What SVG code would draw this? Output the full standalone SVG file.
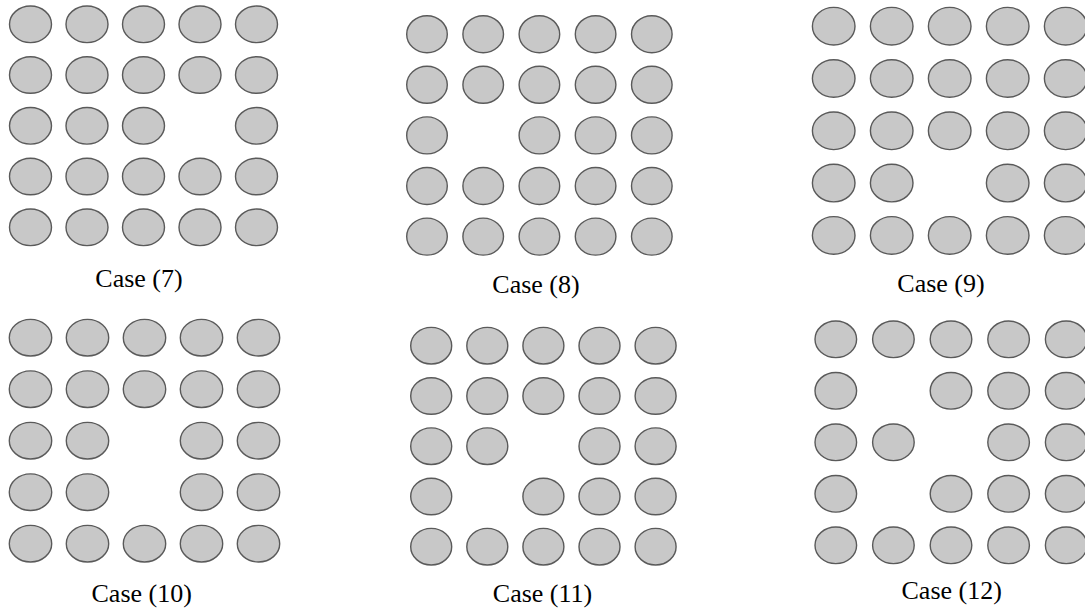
<svg xmlns="http://www.w3.org/2000/svg" width="1085" height="614" viewBox="0 0 1085 614">
<style>
ellipse{fill:#c8c8c8;stroke:#5a5a5a;stroke-width:1.4}
text{font-family:"Liberation Serif","Times New Roman",serif;font-size:26px;fill:#000;text-anchor:middle}
</style>
<rect width="1085" height="614" fill="#fff"/>
<g id="case7">
<ellipse cx="30.5" cy="24.3" rx="21" ry="18.3"/><ellipse cx="87" cy="24.3" rx="21" ry="18.3"/><ellipse cx="143.5" cy="24.3" rx="21" ry="18.3"/><ellipse cx="200" cy="24.3" rx="21" ry="18.3"/><ellipse cx="256.5" cy="24.3" rx="21" ry="18.3"/>
<ellipse cx="30.5" cy="75" rx="21" ry="18.3"/><ellipse cx="87" cy="75" rx="21" ry="18.3"/><ellipse cx="143.5" cy="75" rx="21" ry="18.3"/><ellipse cx="200" cy="75" rx="21" ry="18.3"/><ellipse cx="256.5" cy="75" rx="21" ry="18.3"/>
<ellipse cx="30.5" cy="125.8" rx="21" ry="18.3"/><ellipse cx="87" cy="125.8" rx="21" ry="18.3"/><ellipse cx="143.5" cy="125.8" rx="21" ry="18.3"/><ellipse cx="256.5" cy="125.8" rx="21" ry="18.3"/>
<ellipse cx="30.5" cy="176.5" rx="21" ry="18.3"/><ellipse cx="87" cy="176.5" rx="21" ry="18.3"/><ellipse cx="143.5" cy="176.5" rx="21" ry="18.3"/><ellipse cx="200" cy="176.5" rx="21" ry="18.3"/><ellipse cx="256.5" cy="176.5" rx="21" ry="18.3"/>
<ellipse cx="30.5" cy="227.3" rx="21" ry="18.3"/><ellipse cx="87" cy="227.3" rx="21" ry="18.3"/><ellipse cx="143.5" cy="227.3" rx="21" ry="18.3"/><ellipse cx="200" cy="227.3" rx="21" ry="18.3"/><ellipse cx="256.5" cy="227.3" rx="21" ry="18.3"/>
<text x="139" y="287">Case (7)</text>
</g>
<g id="case8">
<ellipse cx="427" cy="34.2" rx="20.3" ry="18.5"/><ellipse cx="483.2" cy="34.2" rx="20.3" ry="18.5"/><ellipse cx="539.4" cy="34.2" rx="20.3" ry="18.5"/><ellipse cx="595.6" cy="34.2" rx="20.3" ry="18.5"/><ellipse cx="651.8" cy="34.2" rx="20.3" ry="18.5"/>
<ellipse cx="427" cy="84.8" rx="20.3" ry="18.5"/><ellipse cx="483.2" cy="84.8" rx="20.3" ry="18.5"/><ellipse cx="539.4" cy="84.8" rx="20.3" ry="18.5"/><ellipse cx="595.6" cy="84.8" rx="20.3" ry="18.5"/><ellipse cx="651.8" cy="84.8" rx="20.3" ry="18.5"/>
<ellipse cx="427" cy="135.4" rx="20.3" ry="18.5"/><ellipse cx="539.4" cy="135.4" rx="20.3" ry="18.5"/><ellipse cx="595.6" cy="135.4" rx="20.3" ry="18.5"/><ellipse cx="651.8" cy="135.4" rx="20.3" ry="18.5"/>
<ellipse cx="427" cy="186" rx="20.3" ry="18.5"/><ellipse cx="483.2" cy="186" rx="20.3" ry="18.5"/><ellipse cx="539.4" cy="186" rx="20.3" ry="18.5"/><ellipse cx="595.6" cy="186" rx="20.3" ry="18.5"/><ellipse cx="651.8" cy="186" rx="20.3" ry="18.5"/>
<ellipse cx="427" cy="236.6" rx="20.3" ry="18.5"/><ellipse cx="483.2" cy="236.6" rx="20.3" ry="18.5"/><ellipse cx="539.4" cy="236.6" rx="20.3" ry="18.5"/><ellipse cx="595.6" cy="236.6" rx="20.3" ry="18.5"/><ellipse cx="651.8" cy="236.6" rx="20.3" ry="18.5"/>
<text x="536" y="293">Case (8)</text>
</g>
<g id="case9">
<ellipse cx="833.7" cy="26.2" rx="21.3" ry="18.8"/><ellipse cx="891.7" cy="26.2" rx="21.3" ry="18.8"/><ellipse cx="949.7" cy="26.2" rx="21.3" ry="18.8"/><ellipse cx="1007.7" cy="26.2" rx="21.3" ry="18.8"/><ellipse cx="1065.7" cy="26.2" rx="21.3" ry="18.8"/>
<ellipse cx="833.7" cy="78.5" rx="21.3" ry="18.8"/><ellipse cx="891.7" cy="78.5" rx="21.3" ry="18.8"/><ellipse cx="949.7" cy="78.5" rx="21.3" ry="18.8"/><ellipse cx="1007.7" cy="78.5" rx="21.3" ry="18.8"/><ellipse cx="1065.7" cy="78.5" rx="21.3" ry="18.8"/>
<ellipse cx="833.7" cy="130.8" rx="21.3" ry="18.8"/><ellipse cx="891.7" cy="130.8" rx="21.3" ry="18.8"/><ellipse cx="949.7" cy="130.8" rx="21.3" ry="18.8"/><ellipse cx="1007.7" cy="130.8" rx="21.3" ry="18.8"/><ellipse cx="1065.7" cy="130.8" rx="21.3" ry="18.8"/>
<ellipse cx="833.7" cy="183.1" rx="21.3" ry="18.8"/><ellipse cx="891.7" cy="183.1" rx="21.3" ry="18.8"/><ellipse cx="1007.7" cy="183.1" rx="21.3" ry="18.8"/><ellipse cx="1065.7" cy="183.1" rx="21.3" ry="18.8"/>
<ellipse cx="833.7" cy="235.4" rx="21.3" ry="18.8"/><ellipse cx="891.7" cy="235.4" rx="21.3" ry="18.8"/><ellipse cx="949.7" cy="235.4" rx="21.3" ry="18.8"/><ellipse cx="1007.7" cy="235.4" rx="21.3" ry="18.8"/><ellipse cx="1065.7" cy="235.4" rx="21.3" ry="18.8"/>
<text x="941" y="291.7">Case (9)</text>
</g>
<g id="case10">
<ellipse cx="30.5" cy="337.7" rx="21.2" ry="18.3"/><ellipse cx="87.5" cy="337.7" rx="21.2" ry="18.3"/><ellipse cx="144.5" cy="337.7" rx="21.2" ry="18.3"/><ellipse cx="201.5" cy="337.7" rx="21.2" ry="18.3"/><ellipse cx="258.5" cy="337.7" rx="21.2" ry="18.3"/>
<ellipse cx="30.5" cy="389.2" rx="21.2" ry="18.3"/><ellipse cx="87.5" cy="389.2" rx="21.2" ry="18.3"/><ellipse cx="144.5" cy="389.2" rx="21.2" ry="18.3"/><ellipse cx="201.5" cy="389.2" rx="21.2" ry="18.3"/><ellipse cx="258.5" cy="389.2" rx="21.2" ry="18.3"/>
<ellipse cx="30.5" cy="440.7" rx="21.2" ry="18.3"/><ellipse cx="87.5" cy="440.7" rx="21.2" ry="18.3"/><ellipse cx="201.5" cy="440.7" rx="21.2" ry="18.3"/><ellipse cx="258.5" cy="440.7" rx="21.2" ry="18.3"/>
<ellipse cx="30.5" cy="492.2" rx="21.2" ry="18.3"/><ellipse cx="87.5" cy="492.2" rx="21.2" ry="18.3"/><ellipse cx="201.5" cy="492.2" rx="21.2" ry="18.3"/><ellipse cx="258.5" cy="492.2" rx="21.2" ry="18.3"/>
<ellipse cx="30.5" cy="543.7" rx="21.2" ry="18.3"/><ellipse cx="87.5" cy="543.7" rx="21.2" ry="18.3"/><ellipse cx="144.5" cy="543.7" rx="21.2" ry="18.3"/><ellipse cx="201.5" cy="543.7" rx="21.2" ry="18.3"/><ellipse cx="258.5" cy="543.7" rx="21.2" ry="18.3"/>
<text x="141.7" y="601.7">Case (10)</text>
</g>
<g id="case11">
<ellipse cx="431.2" cy="345.7" rx="20.5" ry="18.3"/><ellipse cx="487.3" cy="345.7" rx="20.5" ry="18.3"/><ellipse cx="543.4" cy="345.7" rx="20.5" ry="18.3"/><ellipse cx="599.5" cy="345.7" rx="20.5" ry="18.3"/><ellipse cx="655.6" cy="345.7" rx="20.5" ry="18.3"/>
<ellipse cx="431.2" cy="396" rx="20.5" ry="18.3"/><ellipse cx="487.3" cy="396" rx="20.5" ry="18.3"/><ellipse cx="543.4" cy="396" rx="20.5" ry="18.3"/><ellipse cx="599.5" cy="396" rx="20.5" ry="18.3"/><ellipse cx="655.6" cy="396" rx="20.5" ry="18.3"/>
<ellipse cx="431.2" cy="446.2" rx="20.5" ry="18.3"/><ellipse cx="487.3" cy="446.2" rx="20.5" ry="18.3"/><ellipse cx="599.5" cy="446.2" rx="20.5" ry="18.3"/><ellipse cx="655.6" cy="446.2" rx="20.5" ry="18.3"/>
<ellipse cx="431.2" cy="496.5" rx="20.5" ry="18.3"/><ellipse cx="543.4" cy="496.5" rx="20.5" ry="18.3"/><ellipse cx="599.5" cy="496.5" rx="20.5" ry="18.3"/><ellipse cx="655.6" cy="496.5" rx="20.5" ry="18.3"/>
<ellipse cx="431.2" cy="546.7" rx="20.5" ry="18.3"/><ellipse cx="487.3" cy="546.7" rx="20.5" ry="18.3"/><ellipse cx="543.4" cy="546.7" rx="20.5" ry="18.3"/><ellipse cx="599.5" cy="546.7" rx="20.5" ry="18.3"/><ellipse cx="655.6" cy="546.7" rx="20.5" ry="18.3"/>
<text x="542.5" y="601.7">Case (11)</text>
</g>
<g id="case12">
<ellipse cx="835.8" cy="339.3" rx="20.8" ry="18.3"/><ellipse cx="893.4" cy="339.3" rx="20.8" ry="18.3"/><ellipse cx="951" cy="339.3" rx="20.8" ry="18.3"/><ellipse cx="1008.6" cy="339.3" rx="20.8" ry="18.3"/><ellipse cx="1066.2" cy="339.3" rx="20.8" ry="18.3"/>
<ellipse cx="835.8" cy="390.8" rx="20.8" ry="18.3"/><ellipse cx="951" cy="390.8" rx="20.8" ry="18.3"/><ellipse cx="1008.6" cy="390.8" rx="20.8" ry="18.3"/><ellipse cx="1066.2" cy="390.8" rx="20.8" ry="18.3"/>
<ellipse cx="835.8" cy="442.3" rx="20.8" ry="18.3"/><ellipse cx="893.4" cy="442.3" rx="20.8" ry="18.3"/><ellipse cx="1008.6" cy="442.3" rx="20.8" ry="18.3"/><ellipse cx="1066.2" cy="442.3" rx="20.8" ry="18.3"/>
<ellipse cx="835.8" cy="493.8" rx="20.8" ry="18.3"/><ellipse cx="951" cy="493.8" rx="20.8" ry="18.3"/><ellipse cx="1008.6" cy="493.8" rx="20.8" ry="18.3"/><ellipse cx="1066.2" cy="493.8" rx="20.8" ry="18.3"/>
<ellipse cx="835.8" cy="545.3" rx="20.8" ry="18.3"/><ellipse cx="893.4" cy="545.3" rx="20.8" ry="18.3"/><ellipse cx="951" cy="545.3" rx="20.8" ry="18.3"/><ellipse cx="1008.6" cy="545.3" rx="20.8" ry="18.3"/><ellipse cx="1066.2" cy="545.3" rx="20.8" ry="18.3"/>
<text x="951.7" y="599">Case (12)</text>
</g>
</svg>
